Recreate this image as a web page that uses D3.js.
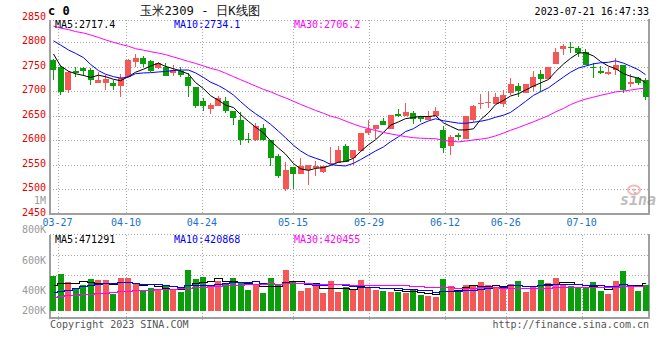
<!DOCTYPE html>
<html><head><meta charset="utf-8">
<script src="https://cdn.jsdelivr.net/npm/d3@7/dist/d3.min.js"></script>
<style>
body{margin:0;background:#fff}
svg{display:block}
text{font-family:"DejaVu Sans Mono",monospace}
</style></head>
<body><svg id="chart" width="660" height="360"></svg>
<script>
// ---------------- DATA ----------------
const dates = ["03-24","03-27","03-28","03-29","03-30","03-31","04-03","04-04","04-06","04-07",
"04-10","04-11","04-12","04-13","04-14","04-17","04-18","04-19","04-20","04-21",
"04-24","04-25","04-26","04-27","04-28","05-04","05-05","05-08","05-09","05-10",
"05-11","05-12","05-15","05-16","05-17","05-18","05-19","05-22","05-23","05-24",
"05-25","05-26","05-29","05-30","05-31","06-01","06-02","06-05","06-06","06-07",
"06-08","06-09","06-12","06-13","06-14","06-15","06-16","06-19","06-20","06-21",
"06-26","06-27","06-28","06-29","06-30","07-03","07-04","07-05","07-06","07-07",
"07-10","07-11","07-12","07-13","07-14","07-17","07-18","07-19","07-20","07-21"];

const open = [2764,2749,2703,2741.7,2747,2743.7,2718,2718,2718,2710,
2730,2760.7,2768,2762,2747,2749,2737,2742,2730,2708,
2681,2664,2671,2680.6,2661,2642,2603,2600,2626.3,2601,
2568.6,2501,2545.6,2532,2540,2544.2,2535.4,2552,2553.7,2589,
2564,2577.5,2616,2623,2640.6,2624,2654,2650,2655.5,2649,
2642,2650,2621.6,2589,2611.4,2603,2642,2676,2677,2674.5,
2674.5,2696,2711,2696,2708.4,2735.5,2724.7,2755,2785.8,2791,
2788,2779.6,2750.5,2742,2735,2743.7,2754,2714.5,2728,2723];
const high = [2766,2754,2742,2749,2749,2748.5,2740,2733.5,2723,2735.5,
2765.5,2776,2772,2764,2759,2758.6,2754,2750,2737,2708,
2686,2677,2690,2689.4,2661,2657,2615,2635,2633,2601,
2573,2555,2545.6,2565,2549,2558.5,2548,2586,2588,2593,
2579.5,2616,2642,2631,2645,2652,2664,2677,2659,2649,
2659,2668,2630,2611.4,2615,2650,2672.5,2695,2701,2696,
2703,2727,2716.6,2715,2742,2743.7,2750.5,2788,2796,2800,
2792.5,2786,2757,2752,2750.5,2769,2754,2735,2730,2726.7];
const low = [2723,2693,2696,2730,2731,2712,2718,2703,2702,2689,
2730,2750,2749,2740,2746,2732,2732,2730,2689,2667,
2659,2654,2670,2656,2632,2590,2594.5,2599,2599,2547,
2523,2496,2501,2532,2510,2527,2533,2551.5,2553.7,2556,
2550,2577,2611,2603,2632,2624,2647,2650,2634,2638.5,
2642,2650,2575,2571,2601,2603,2638.5,2664,2666,2674.5,
2669,2693,2689.4,2696,2701.6,2699.6,2724.7,2755,2774,2779,
2771,2754,2728,2735.5,2733.5,2733.5,2696,2709.8,2713,2682.6];
const close = [2743.7,2699.6,2740,2737,2742,2723,2723,2725,2710,2728,
2764,2768,2756,2742,2757,2732,2744,2733.5,2710,2670.4,
2670,2672.5,2686,2661,2645.3,2600,2601,2628.5,2601,2565,
2526.6,2540,2532,2547,2549,2547,2548,2553.5,2581,2556,
2579.5,2616,2624,2631,2632,2652,2650,2657,2643,2643,
2650,2659,2584,2608,2606,2650,2670.4,2677,2678,2689.4,
2693,2715,2701,2715,2730,2724.7,2750.5,2781,2792.5,2788,
2779,2754,2747,2737,2740,2754,2703,2720,2718,2689.4];

const ma5 = [2776,2752,2741,2736,2732.5,2728.3,2733,2730,2724.6,2721.8,
2730,2739,2745.2,2751.6,2757.4,2751,2746.2,2741.7,2735.3,2718,
2705.6,2691.3,2681.8,2672,2667,2653,2638.7,2627.2,2615.2,2599.1,
2584.4,2572.2,2552.9,2542.1,2538.9,2543,2544.6,2548.9,2555.7,2557.1,
2563.6,2577.2,2591.3,2601.3,2616.5,2631,2637.8,2644.4,2646.8,2649,
2648.6,2650.4,2635.8,2628.8,2621.4,2621.4,2623.7,2642.3,2656.3,2673,
2681.6,2690.5,2695.3,2702.7,2710.8,2717.1,2724.2,2740.2,2755.7,2767.3,
2778.2,2778.9,2772.1,2761,2751.4,2746.4,2736.2,2730.8,2727,2717.4];
const ma10 = [2803,2794.6,2784.4,2777.6,2768.8,2755.2,2742.3,2735,2730,2727.1,
2729.2,2736,2737.6,2738.1,2739.6,2740.5,2742.6,2743.5,2743.5,2737.7,
2728.3,2718.8,2711.8,2703.7,2692.5,2679.3,2665,2654.5,2643.6,2633,
2618.7,2605.5,2590,2578.7,2569,2563.7,2558.4,2550.9,2548.9,2548,
2553.3,2560.9,2570.1,2578.5,2586.8,2597.3,2607.5,2617.9,2624,2632.8,
2639.8,2644.1,2640.1,2637.8,2635.2,2635,2637,2639,2642.5,2647.2,
2651.5,2657.1,2668.8,2679.5,2691.9,2699.3,2707.3,2717.7,2729.2,2739,
2747.6,2751.5,2756.1,2758.3,2759.3,2762.3,2757.5,2751.4,2744,2734.1];
const ma30 = [2833,2829,2826,2822,2819,2815,2810,2805,2800,2796,
2792,2787,2784,2781,2778,2775,2770,2766,2761,2757,
2752,2747,2743,2737,2730,2724,2717,2711,2704,2699.3,
2692.1,2686.8,2679.8,2673.5,2667,2661.2,2655.3,2649.6,2645.3,2639.6,
2633.4,2628.4,2624,2620.3,2616.1,2613.4,2610.3,2607.8,2605.5,2604.6,
2603.9,2603.5,2600.1,2598.3,2597,2598.7,2601,2602.6,2605.1,2609.3,
2614.9,2620.7,2626.3,2631.9,2638,2643.9,2650.6,2658.2,2665.2,2673,
2679.6,2684.2,2688.3,2691.9,2695.5,2698.9,2700.6,2702.7,2705.2,2706.2];

// volume in thousands
const volume = [588,622,483,366,433,533,516,516,289,549,
549,444,339,389,366,416,350,322,683,533,
566,433,500,472,549,472,350,433,305,549,
433,683,505,339,389,422,305,500,322,394,
350,516,405,350,339,322,322,305,366,266,
250,233,533,416,350,433,416,483,433,394,
394,450,500,322,416,516,466,549,450,416,
377,377,483,333,289,500,666,416,333,433];
const volMa5 = [430,470,472,470,498.4,487.4,466.2,472.8,457.4,480.6,
483.8,469.4,434,454,417.4,390.8,372,368.6,427.4,460.8,
490.8,507.4,543,500.8,504,485.2,468.6,455.2,421.8,421.8,
414,480.6,495,501.8,469.8,467.6,392,391,387.6,388.6,
374.2,416.4,397.4,403,392,386.4,347.6,327.6,330.8,316.2,
301.8,284,329.6,339.6,356.4,393,429.6,419.6,423,431.8,
424,430.8,434.2,412,416.4,440.8,444,453.8,479.4,479.4,
451.6,433.8,420.6,397.2,371.8,396.4,454.2,440.8,440.8,471.3];
const volMa10 = [311,330,352,380,415,440,455,462,468,489.5,
485.6,467.8,453.4,455.7,449,437.3,420.7,401.3,440.7,439.1,
440.8,439.7,455.8,464.1,482.4,488,488,499.1,461.3,462.9,
449.6,474.6,475.1,461.8,445.8,440.8,436.3,443,444.7,429.2,
420.9,404.2,394.2,395.3,390.3,380.3,382,362.5,366.9,354.1,
344.1,315.8,328.6,335.2,336.3,347.4,356.8,374.6,381.3,394.1,
408.5,430.2,426.9,417.5,424.1,432.4,437.4,444,445.7,447.9,
446.2,438.9,437.2,438.3,425.6,424,444,430.7,419,420.9];
const volMa30 = [238,250,262,272,280,287,294,305,318,327,
335,343,350,355,360,366,372,380,389,397,
405,412,420,428,435,440,445,450,456,463.8,
458.7,460.7,461.4,460.5,459.1,455.4,448.3,447.8,448.9,443.7,
437.1,439.5,441.7,440.4,439.5,436.4,435.4,434.9,424.3,415.4,
404.9,398.2,399.3,397.4,390.8,389.5,391.7,393.4,397.6,392.5,
391.2,383.4,383.2,382.7,383.6,386.7,392.1,393.7,398,398.7,
399.6,395,397.6,397,395.3,401.3,412.7,416.4,415.3,420.5];

const dateTicks = ["03-27","04-10","04-24","05-15","05-29","06-12","06-26","07-10"];
const priceTicks = [2850,2800,2750,2700,2650,2600,2550,2500,2450];
const priceGrid = [2800,2750,2700,2650,2600,2550,2500];
const volTickLabels = ["800K","600K","400K","200K"];
const volGrid = [600,930];
const titleText = "玉米2309 - 日K线图";
const codeText = "c 0";
const timeText = "2023-07-21 16:47:33";
const legendPrice = ["MA5:2717.4","MA10:2734.1","MA30:2706.2"];
const legendVol = ["MA5:471291","MA10:420868","MA30:420455"];

// ---------------- LAYOUT ----------------
const svg = d3.select("#chart");
const L = 50, R = 649;
const pTop = 20, pBot = 214;
const vTop = 234.5, vBot = 318;
const UP = "#f55656", DOWN = "#0a9e0a";
const GRID = "#a8a8a8", AXIS = "#a0a0a0";
const maColors = ["#000000","#0000ff","#ff00ff"];

const xB = d3.scaleBand().domain(d3.range(dates.length)).range([L, L + 7.5*(dates.length - 0.2)]).paddingInner(0.2).paddingOuter(0);
const xG = d3.scaleLinear().domain([0, dates.length - 1]).range([L, R + 1]);
const yP = d3.scaleLinear().domain([2450, 2850]).range([pBot, 17.8]);
const yV = d3.scaleLinear().domain([0, 1277]).range([311, vTop]);
const cx = i => Math.floor(xB(i)) + 3.5;

// grids
const g = svg.append("g").attr("shape-rendering","crispEdges");
g.selectAll(".hp").data(priceGrid).join("line")
  .attr("x1",L).attr("x2",R).attr("y1",d=>Math.round(yP(d))+0.5).attr("y2",d=>Math.round(yP(d))+0.5)
  .attr("stroke",GRID).attr("stroke-dasharray","1,2");
g.append("line").attr("x1",L).attr("x2",R).attr("y1",pTop+0.5).attr("y2",pTop+0.5).attr("stroke",GRID).attr("stroke-dasharray","1,2");
g.selectAll(".hv").data(volGrid).join("line")
  .attr("x1",L).attr("x2",R).attr("y1",d=>Math.round(yV(d))+0.5).attr("y2",d=>Math.round(yV(d))+0.5)
  .attr("stroke",GRID).attr("stroke-dasharray","1,2");
g.append("line").attr("x1",L).attr("x2",R).attr("y1",vTop).attr("y2",vTop).attr("stroke",GRID).attr("stroke-dasharray","1,2");
const tickIdx = dateTicks.map(t => dates.indexOf(t));
g.selectAll(".vp").data(tickIdx).join("line")
  .attr("x1",d=>Math.round(xG(d))+0.5).attr("x2",d=>Math.round(xG(d))+0.5).attr("y1",pTop).attr("y2",pBot)
  .attr("stroke",GRID).attr("stroke-dasharray","1,2");
g.selectAll(".vv").data(tickIdx).join("line")
  .attr("x1",d=>Math.round(xG(d))+0.5).attr("x2",d=>Math.round(xG(d))+0.5).attr("y1",vTop).attr("y2",vBot+3)
  .attr("stroke",GRID).attr("stroke-dasharray","1,2");

// frames
const fr = svg.append("g").attr("stroke",AXIS).attr("stroke-width",2).attr("shape-rendering","crispEdges");
fr.append("line").attr("x1",L).attr("x2",L).attr("y1",pTop).attr("y2",pBot+1);
fr.append("line").attr("x1",L).attr("x2",R+1).attr("y1",pBot).attr("y2",pBot);
fr.append("line").attr("x1",R).attr("x2",R).attr("y1",pTop-1).attr("y2",pBot+1);
fr.append("line").attr("x1",L).attr("x2",L).attr("y1",vTop).attr("y2",vBot+1);
fr.append("line").attr("x1",L).attr("x2",R+1).attr("y1",vBot).attr("y2",vBot);
fr.append("line").attr("x1",R).attr("x2",R).attr("y1",vTop-1).attr("y2",vBot+1);

// watermark
const wm = svg.append("g").attr("opacity",0.55);
wm.append("ellipse").attr("cx",634).attr("cy",190).attr("rx",6).attr("ry",4.5).attr("fill","none").attr("stroke","#f08080").attr("stroke-width",2);
wm.append("circle").attr("cx",634).attr("cy",190).attr("r",1.5).attr("fill","#f08080");
wm.append("text").attr("x",620).attr("y",205).attr("font-size",15).attr("font-style","italic").attr("font-weight","bold")
  .attr("font-family","DejaVu Sans, sans-serif").attr("fill","#888").text("sina");

// candles
const idx = d3.range(dates.length);
const cg = svg.append("g").attr("shape-rendering","crispEdges");
cg.selectAll(".wick").data(idx).join("line")
  .attr("x1",cx).attr("x2",cx)
  .attr("y1",i=>yP(high[i])).attr("y2",i=>yP(low[i]))
  .attr("stroke",i=>close[i]>=open[i]?UP:DOWN);
cg.selectAll(".body").data(idx).join("rect")
  .attr("x",i=>Math.floor(xB(i)+0.5)).attr("width",xB.bandwidth())
  .attr("y",i=>yP(Math.max(open[i],close[i])))
  .attr("height",i=>Math.max(1, yP(Math.min(open[i],close[i])) - yP(Math.max(open[i],close[i]))))
  .attr("fill",i=>close[i]>=open[i]?UP:DOWN);

// volume bars
cg.selectAll(".vol").data(idx).join("rect")
  .attr("x",i=>Math.floor(xB(i)+0.5)).attr("width",xB.bandwidth())
  .attr("y",i=>yV(volume[i])).attr("height",i=>yV(0)-yV(volume[i]))
  .attr("fill",i=>close[i]>=open[i]?UP:DOWN);

// MA lines
const lineP = d3.line().x((d,i)=>cx(i)).y(d=>yP(d));
[ma5,ma10,ma30].forEach((arr,j)=>{
  svg.append("path").attr("d",lineP(arr)).attr("fill","none").attr("stroke",maColors[j]).attr("stroke-width",1);
});
const lineV = d3.line().x((d,i)=>cx(i)).y(d=>Math.round(yV(d))+0.5).curve(d3.curveStep);
[volMa5,volMa10,volMa30].forEach((arr,j)=>{
  svg.append("path").attr("d",lineV(arr)).attr("fill","none").attr("stroke",maColors[j]).attr("stroke-width",1).attr("shape-rendering","crispEdges");
});

// axis labels
const tx = svg.append("g").attr("font-size",10);
tx.selectAll(".pl").data(priceTicks).join("text")
  .attr("x",46).attr("y",d=>yP(d)+2).attr("text-anchor","end").attr("fill","#e80000").text(d=>d);
tx.append("text").attr("x",46).attr("y",204).attr("text-anchor","end").attr("fill","#999").text("1M");
const volLabelY = [233, 264, 294, 314];
tx.selectAll(".vl").data(volTickLabels).join("text")
  .attr("x",46).attr("y",(d,i)=>volLabelY[i]).attr("text-anchor","end").attr("fill","#999").text(d=>d);
tx.selectAll(".dl").data(tickIdx).join("text")
  .attr("x",d=>xG(d)).attr("y",225.5).attr("text-anchor","middle").attr("fill","#1a73c8").text((d,i)=>dateTicks[i]);

// legends
const legX = [55,174,294];
tx.selectAll(".lp").data(legendPrice).join("text")
  .attr("x",(d,i)=>legX[i]).attr("y",27.5).attr("fill",(d,i)=>maColors[i]).text(d=>d);
tx.selectAll(".lv").data(legendVol).join("text")
  .attr("x",(d,i)=>legX[i]).attr("y",242.5).attr("fill",(d,i)=>maColors[i]).text(d=>d);

// header
svg.append("text").attr("x",48).attr("y",15).attr("font-size",12).attr("font-weight","bold").attr("fill","#000").text(codeText);
svg.append("text").attr("x",140).attr("y",15).attr("font-size",13)
  .attr("font-family","'Noto Sans CJK SC', sans-serif").attr("fill","#111")
  .attr("textLength",120).attr("lengthAdjust","spacingAndGlyphs").text(titleText);
svg.append("text").attr("x",649).attr("y",15).attr("font-size",10).attr("text-anchor","end").attr("fill","#000").text(timeText);

// footer
svg.append("text").attr("x",50).attr("y",327.5).attr("font-size",10).attr("fill","#555").text("Copyright 2023 SINA.COM");
svg.append("text").attr("x",649).attr("y",327.5).attr("font-size",10).attr("text-anchor","end").attr("fill","#555").text("http://finance.sina.com.cn");
</script></body></html>
